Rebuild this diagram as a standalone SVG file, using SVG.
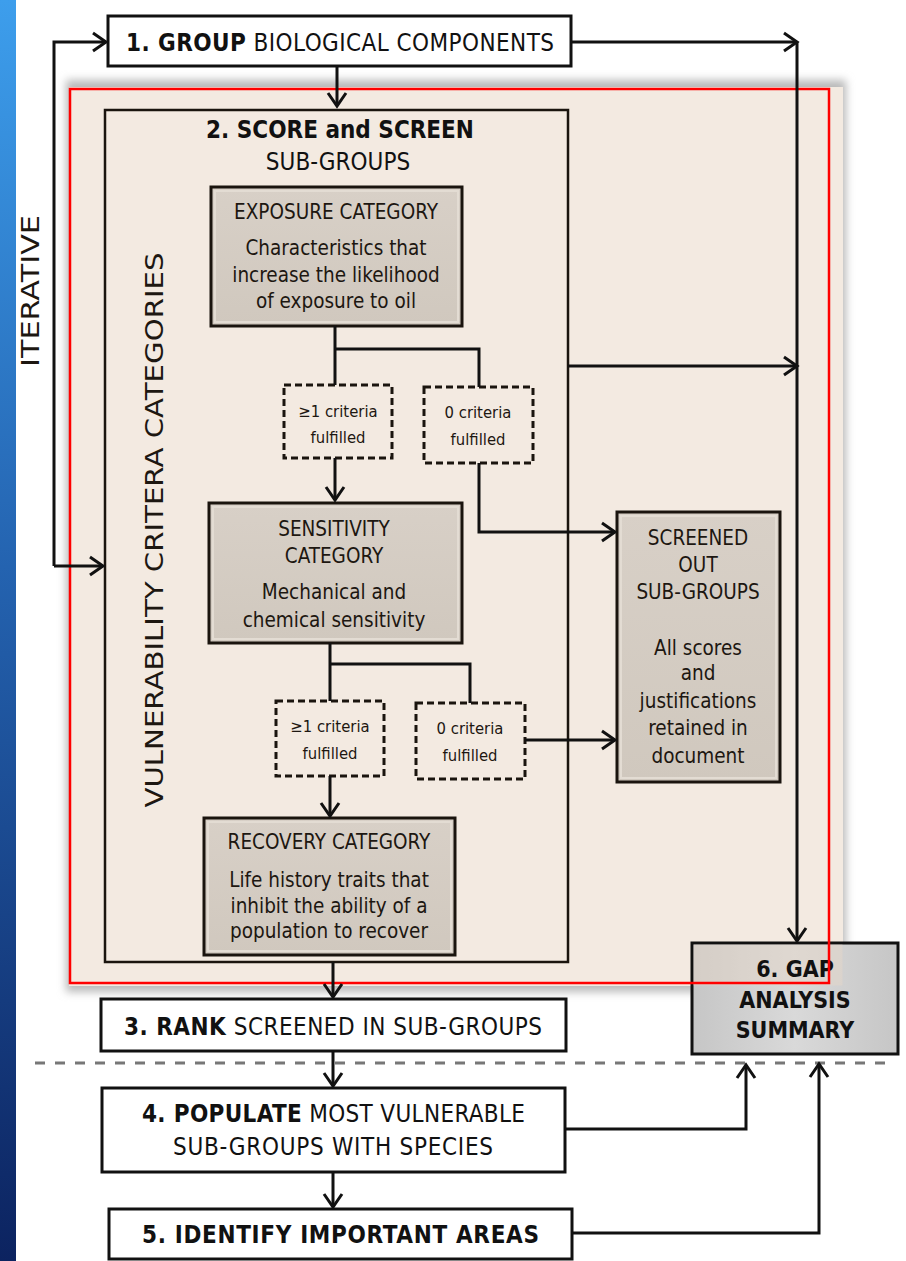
<svg xmlns="http://www.w3.org/2000/svg" width="906" height="1261" viewBox="0 0 906 1261">
  <defs>
    <linearGradient id="sideBand" x1="0" y1="0" x2="0" y2="1">
      <stop offset="0" stop-color="#3d9eec"/>
      <stop offset="0.45" stop-color="#2463b0"/>
      <stop offset="1" stop-color="#0c2360"/>
    </linearGradient>
    <linearGradient id="catFill" x1="0" y1="0" x2="0" y2="1">
      <stop offset="0" stop-color="#d8d0c7"/>
      <stop offset="1" stop-color="#d0c8be"/>
    </linearGradient>
    <linearGradient id="gapFill" x1="0" y1="0" x2="1" y2="0">
      <stop offset="0" stop-color="#c6c6c6"/>
      <stop offset="0.5" stop-color="#d9d9d9"/>
      <stop offset="1" stop-color="#c6c6c6"/>
    </linearGradient>
    <filter id="soft" x="-5%" y="-5%" width="110%" height="110%">
      <feGaussianBlur stdDeviation="4"/>
    </filter>
    <marker id="arrow" markerUnits="userSpaceOnUse" markerWidth="20" markerHeight="24" refX="16" refY="11" orient="auto">
      <path d="M3,2 L16,11 L3,20" fill="none" stroke="#111" stroke-width="3" stroke-linejoin="miter"/>
    </marker>
    <style>
      .box { fill: #ffffff; stroke: #111; stroke-width: 3; }
      .cat { fill: url(#catFill); stroke: #1a140e; stroke-width: 3; }
      .cat-in { fill: none; stroke: #e3dcd3; stroke-width: 2; }
      .dash { fill: none; stroke: #1a140e; stroke-width: 3; stroke-dasharray: 7 4; }
      .line { fill: none; stroke: #111; stroke-width: 3; }
      .arr { fill: none; stroke: #111; stroke-width: 3; marker-end: url(#arrow); }
      text { font-family: "DejaVu Sans Condensed", "DejaVu Sans", "Liberation Sans", sans-serif; fill: #111; }
      .title { font-size: 24px; }
      .b { font-weight: bold; }
      .t19 { font-size: 20.5px; fill: #1d1711; text-anchor: middle; }
      .t15 { font-size: 16.5px; fill: #1d1711; text-anchor: middle; }
      .mid { text-anchor: middle; }
      .side { font-family: "DejaVu Sans", "Liberation Sans", sans-serif; fill: #1d1711; }
    </style>
  </defs>

  <rect x="0" y="0" width="906" height="1261" fill="#ffffff"/>
  <rect x="0" y="0" width="16" height="1261" fill="url(#sideBand)"/>

  <!-- shaded panel behind step 2 -->
  <rect x="66" y="80" width="780" height="912" fill="#b9b9b9" filter="url(#soft)"/>
  <rect x="69" y="87" width="774" height="899" fill="#f3eae1"/>

  <!-- step 6 box (partly under the panel) -->
  <g id="node-gap">
    <rect x="692" y="943" width="206" height="111" fill="url(#gapFill)" stroke="#111" stroke-width="3"/>
    <rect x="693.5" y="944.5" width="149" height="41" fill="#e6d8c8" opacity="0.45"/>
    <text class="b mid" x="795" y="977" font-size="23">6. GAP</text>
    <text class="b mid" x="795" y="1008" font-size="23">ANALYSIS</text>
    <text class="b mid" x="795" y="1038" font-size="23">SUMMARY</text>
  </g>

  <rect x="70" y="89" width="759" height="894" fill="none" stroke="#ff0000" stroke-width="2.5"/>

  <!-- left side label -->
  <text class="side" transform="translate(39,291) rotate(-90)" text-anchor="middle" font-size="24" textLength="152" lengthAdjust="spacingAndGlyphs">ITERATIVE</text>

  <g id="node-1">
    <rect class="box" x="108" y="16" width="463" height="50"/>
    <text class="title" x="126" y="51" textLength="428" lengthAdjust="spacing"><tspan class="b">1. GROUP</tspan> BIOLOGICAL COMPONENTS</text>
  </g>

  <g id="node-2">
    <rect x="105" y="110" width="463" height="852" fill="none" stroke="#1a140e" stroke-width="2.5"/>
    <text class="title b mid" x="340" y="138">2. SCORE and SCREEN</text>
    <text class="title mid" x="338" y="170">SUB-GROUPS</text>
    <text class="side" transform="translate(163,530) rotate(-90)" text-anchor="middle" font-size="24" textLength="555" lengthAdjust="spacingAndGlyphs">VULNERABILITY CRITERA CATEGORIES</text>
  </g>

  <g id="node-exposure">
    <rect class="cat" x="211" y="187" width="251" height="139"/>
    <rect class="cat-in" x="215" y="191" width="243" height="131"/>
    <text class="t19" x="336" y="219">EXPOSURE CATEGORY</text>
    <text class="t19" x="336" y="255">Characteristics that</text>
    <text class="t19" x="336" y="282">increase the likelihood</text>
    <text class="t19" x="336" y="308">of exposure to oil</text>
  </g>

  <g id="node-exp-yes">
    <rect class="dash" x="284" y="385" width="108" height="73"/>
    <text class="t15" x="338" y="417">≥1 criteria</text>
    <text class="t15" x="338" y="443">fulfilled</text>
  </g>
  <g id="node-exp-no">
    <rect class="dash" x="424" y="387" width="109" height="76"/>
    <text class="t15" x="478" y="418">0 criteria</text>
    <text class="t15" x="478" y="445">fulfilled</text>
  </g>

  <g id="node-sensitivity">
    <rect class="cat" x="209" y="503" width="253" height="140"/>
    <rect class="cat-in" x="213" y="507" width="245" height="132"/>
    <text class="t19" x="334" y="536">SENSITIVITY</text>
    <text class="t19" x="334" y="563">CATEGORY</text>
    <text class="t19" x="334" y="599">Mechanical and</text>
    <text class="t19" x="334" y="627">chemical sensitivity</text>
  </g>

  <g id="node-sens-yes">
    <rect class="dash" x="276" y="701" width="108" height="75"/>
    <text class="t15" x="330" y="732">≥1 criteria</text>
    <text class="t15" x="330" y="759">fulfilled</text>
  </g>
  <g id="node-sens-no">
    <rect class="dash" x="416" y="703" width="109" height="76"/>
    <text class="t15" x="470" y="734">0 criteria</text>
    <text class="t15" x="470" y="761">fulfilled</text>
  </g>

  <g id="node-recovery">
    <rect class="cat" x="204" y="818" width="251" height="137"/>
    <rect class="cat-in" x="208" y="822" width="243" height="129"/>
    <text class="t19" x="329" y="849">RECOVERY CATEGORY</text>
    <text class="t19" x="329" y="887">Life history traits that</text>
    <text class="t19" x="329" y="913">inhibit the ability of a</text>
    <text class="t19" x="329" y="938">population to recover</text>
  </g>

  <g id="node-screened-out">
    <rect class="cat" x="617" y="512" width="163" height="270"/>
    <rect class="cat-in" x="621" y="516" width="155" height="262"/>
    <text class="t19" x="698" y="545">SCREENED</text>
    <text class="t19" x="698" y="572">OUT</text>
    <text class="t19" x="698" y="599">SUB-GROUPS</text>
    <text class="t19" x="698" y="655">All scores</text>
    <text class="t19" x="698" y="680">and</text>
    <text class="t19" x="698" y="708">justifications</text>
    <text class="t19" x="698" y="735">retained in</text>
    <text class="t19" x="698" y="763">document</text>
  </g>

  <!-- divider between the screening stage and the later steps -->
  <line x1="35" y1="1063" x2="892" y2="1063" stroke="#777" stroke-width="3" stroke-dasharray="10 10"/>

  <g id="node-3">
    <rect class="box" x="101" y="999" width="465" height="52"/>
    <text class="title" x="124" y="1035" textLength="418" lengthAdjust="spacing"><tspan class="b">3. RANK</tspan> SCREENED IN SUB-GROUPS</text>
  </g>

  <g id="node-4">
    <rect class="box" x="102" y="1088" width="463" height="84"/>
    <text class="title" x="142" y="1122" textLength="383" lengthAdjust="spacing"><tspan class="b">4. POPULATE</tspan> MOST VULNERABLE</text>
    <text class="title" x="173" y="1155" textLength="320" lengthAdjust="spacing">SUB-GROUPS WITH SPECIES</text>
  </g>

  <g id="node-5">
    <rect class="box" x="109" y="1209" width="463" height="50"/>
    <text class="title b" x="142" y="1243" textLength="397" lengthAdjust="spacing">5. IDENTIFY IMPORTANT AREAS</text>
  </g>

  <g id="connectors">
    <path class="arr" d="M54,566 L54,42 L106,42"/>
    <path class="arr" d="M54,566 L103,566"/>
    <path class="arr" d="M337,66 L337,106"/>
    <path class="arr" d="M571,42 L797,42"/>
    <path class="arr" d="M797,42 L797,941"/>
    <path class="arr" d="M568,366 L797,366"/>
    <path class="line" d="M335,326 L335,385 M335,349 L479,349 L479,387"/>
    <path class="arr" d="M335,458 L335,500"/>
    <path class="arr" d="M479,463 L479,532 L615,532"/>
    <path class="line" d="M330,643 L330,701 M330,664 L470,664 L470,703"/>
    <path class="arr" d="M330,776 L330,816"/>
    <path class="arr" d="M525,740 L615,740"/>
    <path class="arr" d="M333,962 L333,997"/>
    <path class="arr" d="M333,1051 L333,1086"/>
    <path class="arr" d="M333,1172 L333,1207"/>
    <path class="arr" d="M565,1129 L746,1129 L746,1065"/>
    <path class="arr" d="M572,1233 L819,1233 L819,1064"/>
  </g>
</svg>
